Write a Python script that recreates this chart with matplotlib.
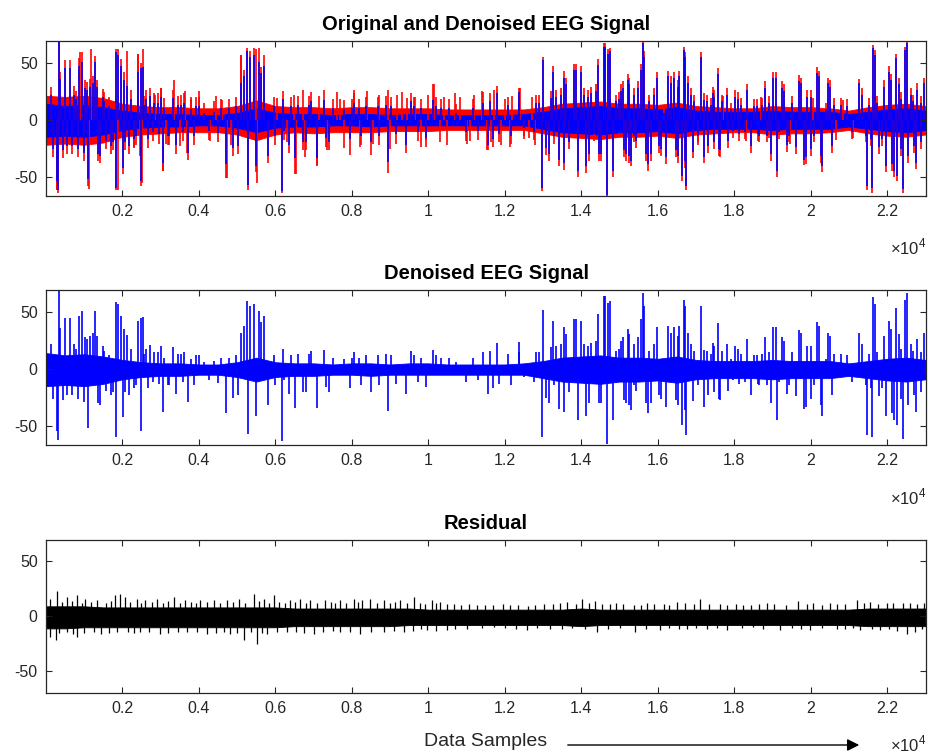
import matplotlib
matplotlib.use("Agg")
import matplotlib.pyplot as plt

plt.rcParams['font.family'] = ['Liberation Sans', 'DejaVu Sans']
plt.rcParams['mathtext.fontset'] = 'custom'
plt.rcParams['mathtext.rm'] = 'Liberation Sans'
plt.rcParams['axes.unicode_minus'] = False

N_SAMPLES = 23020

# solid band of each trace, one value every 500 samples (0 .. 23000)
core_x = list(range(0, 23001, 500))
blue_hi = [14, 12, 13, 11, 8, 6, 5, 5, 4, 4, 6, 10, 6, 5, 5, 4, 5, 5, 4, 5, 5, 4, 4, 4,
           4, 5, 7, 10, 11, 12, 10, 10, 9, 11, 8, 7, 7, 7, 8, 7, 7, 7, 5, 7, 9, 10, 8]
blue_lo = [-15, -14, -15, -13, -9, -7, -6, -6, -5, -5, -7, -11, -7, -6, -6, -5, -5, -6, -5, -5, -5, -5, -5, -5,
           -5, -5, -8, -11, -12, -13, -11, -11, -10, -12, -9, -8, -8, -8, -9, -8, -8, -8, -6, -8, -10, -11, -9]
red_hi = [21, 20, 21, 19, 14, 12, 11, 11, 10, 10, 12, 17, 12, 11, 11, 10, 11, 11, 10, 10, 10, 9, 9, 9,
          9, 9, 11, 14, 15, 16, 14, 14, 13, 15, 12, 11, 10, 10, 12, 11, 11, 10, 8, 11, 13, 14, 12]
red_lo = [-22, -21, -22, -20, -15, -13, -12, -11, -11, -11, -13, -18, -13, -11, -12, -11, -11, -11, -10, -10, -10, -9, -9, -9,
          -9, -9, -12, -15, -16, -17, -15, -15, -14, -16, -13, -12, -11, -11, -13, -12, -12, -11, -9, -12, -14, -15, -13]
res_hi = [9, 9, 9, 8, 8, 8, 8, 8, 8, 8, 8, 8, 8, 7, 7, 7, 7, 7, 7, 7, 6, 6, 6, 6,
          6, 6, 6, 6, 7, 6, 6, 6, 6, 6, 6, 6, 6, 6, 6, 6, 6, 6, 6, 7, 7, 7, 7]
res_lo = [-11, -11, -10, -10, -10, -10, -10, -10, -10, -10, -10, -10, -10, -9, -9, -9, -9, -9, -9, -8, -8, -8, -8, -8,
          -8, -8, -8, -8, -9, -8, -8, -8, -8, -8, -8, -8, -8, -8, -8, -8, -8, -8, -8, -9, -9, -9, -9]

# large peaks of the denoised signal (sample, amplitude) and of the original at the same samples
peak_pos = [292, 310, 353, 379, 501, 554, 615, 728, 789, 876, 937, 989, 1024, 1094, 1164, 1225, 1294, 1340,
            1355, 1425, 1530, 1660, 1748, 1835, 1843, 1896, 1965, 2009, 2053, 2114, 2183, 2314, 2419, 2480,
            2488, 2532, 2619, 2732, 2837, 3011, 3055, 3186, 3316, 3403, 3534, 3621, 3708, 3796, 4013, 4275,
            4493, 4711, 4885, 5016, 5103, 5190, 5260, 5277, 5347, 5451, 5495, 5582, 5626, 5712, 5799, 6165,
            6191, 6366, 6522, 6714, 6932, 7080, 7263, 7411, 7960, 8065, 8501, 8954, 9416, 9547, 10113, 11420,
            11550, 11794, 12378, 12962, 12988, 13075, 13162, 13250, 13424, 13537, 13555, 13598, 13816, 13860,
            13903, 13990, 14121, 14208, 14382, 14426, 14470, 14583, 14618, 14670, 14705, 14757, 14818, 15036,
            15080, 15167, 15210, 15298, 15472, 15559, 15603, 15629, 15734, 15821, 15977, 16082, 16213, 16256,
            16431, 16518, 16561, 16622, 16675, 16709, 16736, 16910, 17128, 17213, 17431, 17579, 17631, 17806,
            18346, 18433, 18799, 18956, 19026, 19087, 19130, 19261, 19374, 19610, 19697, 19740, 19828, 19871,
            20176, 20219, 20307, 20455, 20507, 20568, 21265, 21483, 21614, 21620, 21675, 21788, 21963, 22050,
            22093, 22180, 22224, 22267, 22424, 22460, 22512, 22747, 22965]
peak_blue = [-54, -62, 69, 36, 45, -23, 45, 22, 18, 47, 51, -29, 28, -52, 29, 32, 51, 29,
             -30, -32, 16, 12, -20, 59, -60, 57, 47, -42, 35, 30, -23, -17, 42, 45,
             -54, 46, 18, 21, 15, 20, -38, -14, 19, -22, 13, 15, -29, 9, 12, -10,
             -12, -39, -25, -23, 32, 38, 60, -57, 55, 57, -41, 51, 41, 47, -32, -63,
             18, -22, -34, -20, 16, -34, 17, -20, -17, 15, -20, -37, -22, 16, 17, 15,
             -22, 23, 24, -60, 52, -25, -30, 42, -35, 37, -38, 31, 44, 44,
             -45, 42, -41, -30, 25, 48, -30, 64, 64, -66, 58, 60, -45, 25,
             28, -30, 35, -36, 28, 44, 67, 55, -39, -30, 37, -26, -33, 38,
             37, -32, 38, -49, 61, 55, -58, -28, 55, -33, 23, 40, -27, 22,
             26, -23, 28, -30, 37, 37, -45, 28, -22, -24, 34, 32, -35, -33,
             41, 38, -41, 32, 29, -23, 32, -58, -60, 63, 57, -24, -41, 42,
             35, -45, 54, -49, -61, 61, 67, -38, 32]
peak_red = [-62, -64, 69, 42, 52, -30, 52, 30, 25, 54, 59, -36, 35, -58, 36, 38, 56, 35,
            -36, -38, 24, 20, -27, 62, -62, 62, 53, -48, 42, 60, -30, -25, 58, 50,
            -58, 62, 26, 28, 23, 28, -45, -22, 26, -30, 22, 23, -35, 18, 20, -18,
            -20, -51, -32, -30, 57, 44, 63, -62, 60, 63, -46, 63, 46, 57, -38, -64,
            25, -29, -48, -27, 24, -41, 26, -27, -31, 23, -31, -47, -29, 23, 31, 24,
            -27, 30, 28, -63, 55, -31, -36, 47, -41, 43, -44, 37, 49, 49,
            -50, 47, -47, -36, 31, 53, -36, 67, 67, -67, 62, 63, -50, 31,
            34, -36, 40, -41, 34, 49, 69, 60, -45, -36, 42, -32, -39, 43,
            42, -38, 43, -54, 64, 59, -62, -34, 59, -38, 29, 45, -33, 28,
            31, -29, 34, -36, 42, 42, -50, 34, -28, -30, 39, 37, -40, -39,
            46, 43, -46, 37, 35, -29, 36, -62, -64, 66, 61, -30, -46, 47,
            40, -50, 58, -54, -64, 64, 69, -43, 37]

# smaller swings around the baseline (sample, denoised, original)
swing_pos = [135, 179, 440, 676, 833, 1076, 1486, 1573, 1704, 2060, 2227, 2358, 2576, 2663, 2793, 2924,
             2967, 3098, 3229, 3447, 3578, 3883, 3926, 4144, 4406, 4580, 4798, 4972, 5973, 5980, 6235, 6409,
             6584, 6801, 6889, 7324, 7499, 7804, 7995, 8196, 8239, 8370, 8675, 8719, 8893, 9024, 9154, 9634,
             9721, 9808, 9939, 10200, 10331, 10549, 10723, 10985, 11159, 11290, 11620, 11681, 11855, 12073,
             12160, 12361, 12509, 12770, 12814, 12884, 13206, 13276, 13337, 13467, 13685, 14078, 14165, 14252,
             14339, 14513, 14905, 14993, 15123, 15254, 15260, 15385, 15390, 15428, 15690, 15777, 15908, 16038,
             16169, 16343, 16474, 16530, 16715, 16779, 16866, 16953, 17041, 17220, 17300, 17305, 17387, 17474,
             17480, 17605, 17692, 17840, 17910, 17954, 18015, 18085, 18128, 18189, 18276, 18520, 18607, 18612,
             18651, 18738, 18851, 18912, 18918, 19174, 19305, 19435, 19522, 19915, 20002, 20008, 20089, 20263,
             20394, 20612, 20786, 20960, 21091, 21352, 21440, 21527, 21571, 21745, 21875, 21919, 22137, 22311,
             22355, 22360, 22547, 22616, 22686, 22690, 22791, 22878, 22885]
swing_blue = [22, -26, -27, -23, -26, 26, 20, -19, -23, -20, 18, -14, 13, -17, -11, 15,
              -13, 10, -14, 13, -11, -14, 12, 6, 7, 10, 10, 12, 12, -14, -10, 12,
              13, -20, 13, -16, 10, 9, 10, 10, -14, 12, 12, -14, 13, 12, -13, 12,
              -11, 10, -16, 12, 10, 10, 6, -11, 10, -10, 16, -17, -13, 13,
              -14, 15, -7, -11, 15, 15, 19, -14, 20, 22, -20, 22, 20, 23,
              -13, -30, 16, 18, -27, 31, -32, 22, -14, -19, -30, 16, 22, -23,
              6, 32, -27, 29, -36, 32, 22, 16, -14, 17, 16, -23, 13, 20,
              -20, -26, 16, -19, 9, -10, 20, 18, -13, 13, -11, 12, 12, -13,
              -14, 13, -14, 15, -10, -11, 25, -14, 15, 20, 20, -26, -14, -32,
              9, 13, 13, 12, -11, 22, -14, 13, -17, 15, -17, 29, -39, 31,
              18, -26, -32, 22, 16, -23, 26, 15, -20]
swing_red = [29, -33, -34, -30, -33, 33, 27, -26, -30, -27, 26, -22, 21, -25, -19, 23,
             -21, 19, -22, 21, -19, -22, 20, 15, 16, 18, 18, 20, 20, -22, -18, 20,
             21, -27, 21, -24, 18, 17, 18, 18, -22, 20, 20, -22, 21, 20, -21, 20,
             -19, 18, -24, 20, 18, 18, 14, -19, 18, -18, 23, -24, -20, 20,
             -21, 22, -14, -18, 22, 22, 25, -21, 26, 28, -26, 28, 26, 29,
             -19, -36, 22, 24, -33, 37, -38, 28, -20, -25, -36, 22, 28, -29,
             12, 38, -33, 35, -42, 38, 28, 22, -20, 23, 22, -29, 19, 26,
             -26, -32, 22, -25, 15, -16, 26, 24, -19, 19, -17, 18, 18, -19,
             -20, 19, -20, 21, -16, -17, 31, -20, 21, 26, 26, -32, -20, -38,
             15, 19, 19, 18, -17, 28, -20, 19, -23, 21, -23, 35, -45, 37,
             24, -32, -38, 28, 22, -29, 32, 21, -26]

# peaks seen only in the original
orig_pos = [290, 902, 1136, 1181, 1876, 2403, 2466, 2511, 3011, 3051, 3359, 3648, 3690, 4000, 4605, 4736,
            5089, 5480, 5524, 6483, 6526, 6727, 6783, 7075, 7350, 7600, 7800, 8047, 8200, 8400, 8700, 8936,
            9000, 9180, 9300, 9660, 9800, 10000, 10138, 10312, 10500, 10700, 10835, 11000, 11200, 11402,
            11532, 11707, 11900, 12143, 12200, 12405, 12624, 12700, 12800,
            2290, 2850, 3150, 3500, 3780, 4300, 4450, 4850, 6050, 6300, 7150, 7700, 8550, 9450, 9950,
            10400, 11100, 11650, 12000, 12500, 17050, 17700, 18300, 18700, 19450, 20050, 20650, 20850, 21100]
orig_val = [-62, 59, -61, 62, -62, 58, -32, -56, 28, -45, 35, 25, -29, 25, 17, -51,
            57, 62, -56, 22, -48, 26, -33, -40, -27, 24, -25, 26, -24, 25, 22, 26,
            -26, 22, 24, 20, -24, 22, 31, -20, -22, 23, 20, -21, 22, 25,
            -27, 26, -22, -24, 21, 28, -16, 20, -22,
            -24, 22, -21, -23, 20, -19, 21, -22, 19, -20, 21, 18, -21, 19, -18,
            20, -19, -20, 18, -17, -22, 21, -19, 20, -21, 19, -18, 17, -16]

# residual peaks
res_pos = [118, 292, 553, 815, 1030, 1339, 1817, 1947, 2078, 2383, 2601, 2906, 3342, 3647, 4040, 4388,
           4737, 5042, 5434, 5695, 5957, 6392, 6654, 6915, 7307, 7700, 8048, 8265, 8483, 8832, 9268, 9616,
           10096, 10313, 10662, 11270, 12142, 13013, 13623, 14015, 14364, 14756, 15366, 15714, 16150,
           16499, 17108, 17631, 18241, 18851, 19679, 20071, 20681, 21204, 21552, 21988, 22423, 22772,
           118, 249, 815, 1426, 1862, 2471, 2993, 3690, 4213, 4823, 5172, 5520, 5782, 6305, 7002, 7700,
           8222, 8832, 9355, 9965, 10488, 11706, 12578, 13188, 14407, 15409, 16063, 16760, 17805, 18502,
           19199, 19984, 20681, 21291, 21814, 22510, 22728]
res_val = [16, 22.6, 17.6, 19, 16, 14.5, 19, 20.5, 17.6, 16, 14.5, 16, 17.6, 14.5, 14.5, 14.5,
           15, 16, 20.5, 16, 19, 14.5, 16, 14.5, 14.5, 14.5, 16, 14.5, 16, 14.5, 14.5, 17.6,
           14.5, 13, 11.5, 10, 10, 11.5, 13, 15.4, 14, 11.5, 10, 12, 11,
           13, 15.4, 11, 10, 12, 14, 12, 11, 14.5, 13, 12, 12, 11,
           -18.7, -21.7, -18.7, -15.7, -14.2, -14.2, -15.7, -14.2, -15.7, -15.7, -21.7, -25.3, -15.7, -14.2, -15.7, -14.2,
           -15.7, -14.2, -14.2, -12.7, -12.7, -10, -12.7, -12, -14.2, -14.2, -12.7, -12, -12.7, -10,
           -12.7, -12.7, -12, -12.7, -12.7, -15.7, -14.2]
# fine fringe along the edges of the residual band
fringe_pos = [430, 690, 950, 1180, 1560, 1690, 2210, 2480, 2760, 3050, 3200, 3500, 3800, 3920, 4210, 4560,
              4900, 5200, 5560, 5820, 6100, 6250, 6520, 6790, 7100, 7450, 7560, 7850, 8150, 8650, 8990, 9120,
              9450, 9780, 9900, 10200, 10480, 10850, 11050, 11480, 11700, 11950, 12350, 12600, 12800, 13250,
              13450, 13850, 14200, 14550, 14900, 15100, 15550, 15900, 16300, 16700, 16950, 17350, 17800, 18050,
              18450, 18650, 19050, 19350, 19900, 20300, 20500, 20900, 21400, 21750, 22150, 22600, 22950,
              350, 560, 700, 1000, 1250, 1650, 2150, 2300, 2700, 3200, 3450, 3950, 4450, 4650, 5000, 5350,
              5650, 6050, 6550, 6750, 7250, 7500, 7950, 8500, 9100, 9600, 9800, 10200, 10700, 11000, 11400,
              12000, 12300, 12850, 13500, 13750, 14100, 14700, 15000, 15700, 16300, 16550, 17000, 17300,
              17550, 18200, 18750, 19500, 19750, 20300, 20900, 21100, 21600, 22050, 22250, 22900]
fringe_val = [13, 14, 12, 13, 12, 14, 13, 12, 13, 12, 14, 12, 13, 12, 13, 12,
              13, 12, 14, 12, 13, 12, 13, 12, 12, 13, 12, 12, 13, 12, 12, 13,
              12, 12, 11, 12, 11, 10, 11, 10, 10, 11, 10, 9, 10, 11,
              12, 11, 12, 11, 12, 11, 10, 11, 10, 12, 11, 11, 10, 11,
              10, 11, 11, 10, 11, 10, 12, 11, 12, 11, 12, 12, 12,
              -15, -14, -16, -15, -14, -15, -14, -15, -14, -15, -14, -14, -15, -14, -15, -14,
              -15, -14, -14, -15, -14, -13, -14, -14, -13, -13, -12, -13, -12, -12, -11,
              -11, -12, -11, -12, -11, -12, -12, -11, -12, -11, -12, -11, -12,
              -11, -11, -12, -11, -12, -11, -12, -11, -12, -12, -13, -12]

xticks = list(range(2000, 22001, 2000))
xticklabels = ['0.2', '0.4', '0.6', '0.8', '1', '1.2', '1.4', '1.6', '1.8', '2', '2.2']
yticks = [-50, 0, 50]

TXT = '#262626'


def draw_trace(ax, hi, lo, pos, val, color, lw=1.2):
	ax.fill_between(core_x, lo, hi, color=color, lw=0.6)
	ax.vlines(pos, 0, val, color=color, lw=lw)


def style_axes(ax, ylim, title):
	ax.set_xlim(0, N_SAMPLES)
	ax.set_ylim(*ylim)
	ax.set_xticks(xticks)
	ax.set_xticklabels(xticklabels)
	ax.set_yticks(yticks)
	ax.tick_params(direction='in', top=True, right=True, length=4.5, width=0.8,
				   labelsize=11.5, colors=TXT, pad=6)
	for s in ax.spines.values():
		s.set_color(TXT)
		s.set_linewidth(0.9)
	ax.set_title(title, fontsize=14.5, fontweight='bold', color='k', pad=8)
	ax.text(1.0, -0.335, r'$\times10^{4}$', transform=ax.transAxes, ha='right',
			va='center', fontsize=12, color=TXT)


fig = plt.figure(figsize=(9.29, 7.54), dpi=100)
ax1 = fig.add_axes([0.0495, 0.7405, 0.9475, 0.2056])
ax2 = fig.add_axes([0.0495, 0.4098, 0.9475, 0.2056])
ax3 = fig.add_axes([0.0495, 0.0809, 0.9475, 0.2029])

blue_pos = peak_pos + swing_pos
blue_val = peak_blue + swing_blue

# original (red) with the denoised trace (blue) on top
draw_trace(ax1, red_hi, red_lo, peak_pos + swing_pos + orig_pos,
		   peak_red + swing_red + orig_val, '#ff0000')
draw_trace(ax1, blue_hi, blue_lo, blue_pos, blue_val, '#0000ff')
style_axes(ax1, (-66.7, 69.4), 'Original and Denoised EEG Signal')

draw_trace(ax2, blue_hi, blue_lo, blue_pos, blue_val, '#0000ff')
style_axes(ax2, (-66.7, 69.4), 'Denoised EEG Signal')

draw_trace(ax3, res_hi, res_lo, res_pos + fringe_pos, res_val + fringe_val, 'k', lw=0.9)
style_axes(ax3, (-69.5, 69), 'Residual')

fig.text(0.5232, 1 - 742 / 754, 'Data Samples', ha='center', va='center',
		 fontsize=14, color=TXT)
ax3.annotate('', xy=(862 / 929, 1 - 745 / 754), xytext=(565 / 929, 1 - 745 / 754),
			 xycoords='figure fraction', textcoords='figure fraction',
			 arrowprops=dict(arrowstyle='-|>', color='k', lw=1.0, mutation_scale=18))

fig.savefig('out.png', dpi=100)
